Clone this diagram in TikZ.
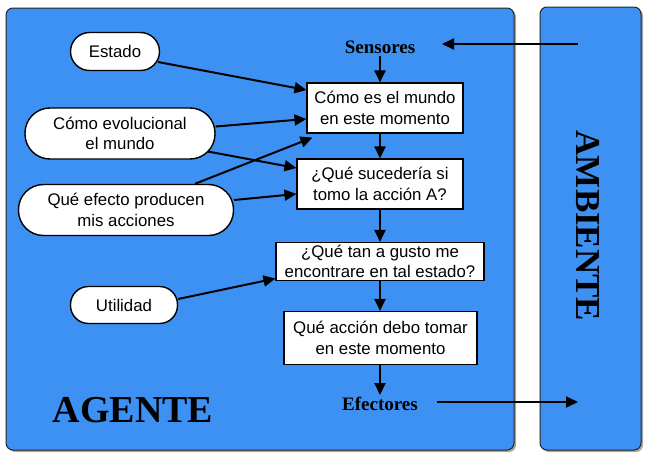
\documentclass[tikz,border=0pt]{standalone}
\usepackage{fontspec}
\setmainfont{Liberation Serif}
\setsansfont{Liberation Sans}
\usetikzlibrary{arrows.meta}
\pgfdeclarelayer{back}\pgfdeclarelayer{mid}
\pgfsetlayers{back,mid,main}
\definecolor{panelblue}{RGB}{61,145,243}
\begin{document}
\begin{tikzpicture}[x=1pt,y=-1pt,
 panel/.style={fill=panelblue, draw=black!85, line width=1pt, rounded corners=7pt},
 shade/.style={fill=black!35, rounded corners=7pt},
 box/.style={draw=black, line width=1.1pt, fill=white, font=\sffamily\fontsize{16.8}{20.5}\selectfont, align=center, inner sep=0pt},
 pill/.style={draw=black, line width=1.4pt, fill=white, font=\sffamily\fontsize{16.8}{20.5}\selectfont, align=center, inner sep=0pt},
 lbl/.style={font=\bfseries\fontsize{19}{22}\selectfont, inner sep=2pt},
 big/.style={font=\bfseries\fontsize{38}{40}\selectfont, inner sep=0pt},
 arr/.style={line width=2pt, -{Triangle[length=12pt,width=11pt]}}]
\useasboundingbox (0,0) rectangle (649,458);

\begin{pgfonlayer}{back}
  \fill[shade] (8,10) rectangle (516,452);
  \draw[panel] (6,8) rectangle (514,450);
  \fill[shade] (542,9) rectangle (643,452);
  \draw[panel] (540,7) rectangle (641,450);
\end{pgfonlayer}

% labels
\node[big] (agente) at (133,410) {AGENTE};
\node[big, font=\bfseries\fontsize{35}{40}\selectfont, rotate=-90] (ambiente) at (588,226) {AMBIENTE};
\node[lbl] (sen) at (380,47) {Sensores};
\node[lbl] (efe) at (380,404) {Efectores};

% boxes
\node[box, minimum width=156pt, minimum height=50pt] (b1) at (385,108) {Cómo es el mundo\\en este momento};
\node[box, minimum width=166pt, minimum height=50pt] (b2) at (380,184) {¿Qué sucedería si\\tomo la acción A?};
\node[box, minimum width=208pt, minimum height=38pt] (b3) at (380,261.5) {¿Qué tan a gusto me\\encontrare en tal estado?};
\node[box, minimum width=193pt, minimum height=53pt] (b4) at (380.5,338) {Qué acción debo tomar\\en este momento};

% pills
\node[pill, minimum width=89pt, minimum height=38pt, rounded corners=19pt] (est) at (115,51.5) {Estado};
\node[pill, minimum width=190pt, minimum height=51pt, rounded corners=25pt] (evo) at (120,133.5) {Cómo evolucional\\el mundo};
\node[pill, minimum width=215pt, minimum height=51pt, rounded corners=25pt] (efc) at (126,210) {Qué efecto producen\\mis acciones};
\node[pill, minimum width=107pt, minimum height=37pt, rounded corners=18pt] (uti) at (124,305) {Utilidad};

% free ends
\coordinate (sinA) at (578,44);
\coordinate (sinB) at (442,44);
\coordinate (soutA) at (437,402);
\coordinate (soutB) at (578,402);

\begin{pgfonlayer}{mid}
  \draw[arr] (sinA) -- (sinB);
  \draw[arr] (soutA) -- (soutB);
  \draw[arr] ([shift={(43pt,-10.5pt)}]est.center) -- ([yshift=18pt]b1.west);
  \draw[arr] ([yshift=7pt]evo.east) -- ([yshift=-11pt]b1.west);
  \draw[arr] ([shift={(-8pt,-18pt)}]evo.east) -- ([yshift=16pt]b2.west);
  \draw[arr] ([xshift=69pt]efc.north) -- ([shift={(6pt,-4pt)}]b1.south west);
  \draw[arr] ([yshift=10pt]efc.east) -- ([yshift=-10pt]b2.west);
  \draw[arr] ([yshift=6pt]uti.east) -- ([yshift=-17pt]b3.west);
  \draw[arr] (sen.south) -- (sen.south |- b1.north);
  \draw[arr] (sen.south |- b1.south) -- (sen.south |- b2.north);
  \draw[arr] (sen.south |- b2.south) -- (sen.south |- b3.north);
  \draw[arr] (sen.south |- b3.south) -- (sen.south |- b4.north);
  \draw[arr] (sen.south |- b4.south) -- (efe.north);
\end{pgfonlayer}
\end{tikzpicture}
\end{document}
